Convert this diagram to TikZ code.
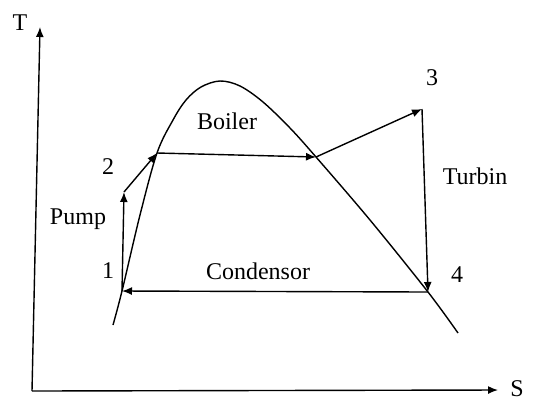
\documentclass[tikz,border=0pt]{standalone}
\usepackage{fontspec}
\setmainfont{Liberation Serif}
\usetikzlibrary{arrows.meta, positioning, calc}

\begin{document}
\begin{tikzpicture}[x=0.5pt, y=-0.5pt, line width=0.7pt,
    every node/.style={font=\fontsize{12}{14}\selectfont},
    flow/.style={-{Latex[length=5pt, width=4pt]}}]
    \useasboundingbox (0,0) rectangle (534,403);

    % Axes
    \coordinate (origin) at (32,391);
    \coordinate (ttop) at (40,27);
    \coordinate (sright) at (498,390);
    \draw[flow] (origin) -- (ttop);
    \draw[flow] (origin) -- (sright);
    \node (tlabel) at (20,23) {T};
    \node[inner sep=0pt] (slabel) at (517,389) {S};

    % Cycle states
    \coordinate (p1) at (122,291);
    \coordinate (p1a) at (124,192);
    \coordinate (p2) at (157,153);
    \coordinate (p2a) at (316,157);
    \coordinate (p3) at (422,109);
    \coordinate (p4) at (428,292);

    % Saturation dome
    \draw plot[smooth, tension=0.55] coordinates {(113,325) (122,291) (140,215) (157,153)
        (173,120) (186,100) (201,87) (220,81) (240,86) (263,102) (290,128) (316,157)
        (370,220) (428,292) (458,333)};

    % Process arrows
    \draw[flow] (p1) -- (p1a);
    \draw[flow] (p1a) -- (p2);
    \draw[flow] (p2) -- (p2a);
    \draw[flow] (p2a) -- (p3);
    \draw[flow] (p3) -- (p4);
    \draw[flow] (p4) -- (p1);

    % Labels
    \node (n1) at (108,271) {1};
    \node (n2) at (108,167) {2};
    \node (n3) at (432,78) {3};
    \node (n4) at (457,275) {4};
    \node (pump) at (78,219) {Pump};
    \node (boiler) at (227,121) {Boiler};
    \node (turbin) at (475,176) {Turbin};
    \node (condensor) at (258,271) {Condensor};
  \end{tikzpicture}
\end{document}
